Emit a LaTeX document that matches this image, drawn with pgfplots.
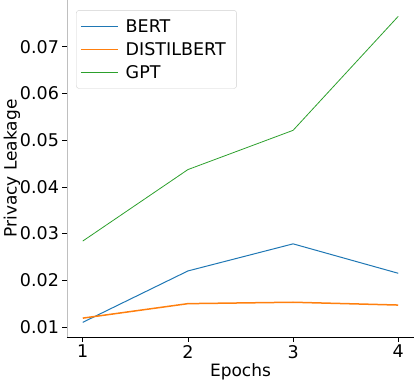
\documentclass[border=0pt]{standalone}
\usepackage{pgfplots}
\pgfplotsset{compat=1.18}
\usepackage{fontspec}
\setmainfont{DejaVu Sans}
\definecolor{tabblue}{HTML}{1F77B4}
\definecolor{taborange}{HTML}{FF7F0E}
\definecolor{tabgreen}{HTML}{2CA02C}
\begin{document}
\begin{tikzpicture}
\begin{axis}[
    scale only axis,
    width=347pt, height=337pt,
    xmin=0.85, xmax=4.15,
    ymin=0.00786, ymax=0.0800,
    axis x line*=bottom,
    axis y line*=left,
    x axis line style={black, line width=0.8pt, -},
    y axis line style={black!25, line width=0.8pt, -},
    xtick={1,2,3,4},
    ytick={0.01,0.02,0.03,0.04,0.05,0.06,0.07},
    yticklabel style={/pgf/number format/.cd, fixed, precision=2, zerofill},
    scaled y ticks=false,
    tick style={black, line width=0.6pt},
    major tick length=4.5pt,
    tick align=outside,
    ticklabel style={font=\fontsize{17.5}{20}\selectfont},
    /pgf/number format/assume math mode=true,
    xlabel={Epochs},
    ylabel={Privacy Leakage},
    label style={font=\fontsize{17}{20}\selectfont},
    xlabel style={yshift=1.5pt},
    ylabel style={yshift=-7pt},
    legend style={at={(0.026,0.97)}, anchor=north west, draw=black!18, rounded corners=3pt,
        font=\fontsize{17.5}{20}\selectfont, row sep=4.5pt, inner xsep=4pt, inner ysep=7pt,
        nodes={inner xsep=7pt}},
    legend cell align=left,
    legend image code/.code={\draw[#1] (0cm,0cm) -- (1.3cm,0cm);},
]
\addplot[tabblue, line width=1pt] coordinates {(1,0.0110) (2,0.0220) (3,0.0278) (4,0.0215)};
\addlegendentry{BERT}
\addplot[taborange, line width=1.5pt] coordinates {(1,0.0119) (2,0.0150) (3,0.0153) (4,0.0147)};
\addlegendentry{DISTILBERT}
\addplot[tabgreen, line width=0.8pt] coordinates {(1,0.0284) (2,0.0437) (3,0.0521) (4,0.0765)};
\addlegendentry{GPT}
\end{axis}
\pgfresetboundingbox
\path[use as bounding box] ([shift={(-67pt,-43pt)}]current axis.south west) rectangle (current axis.north east);
\end{tikzpicture}
\end{document}
